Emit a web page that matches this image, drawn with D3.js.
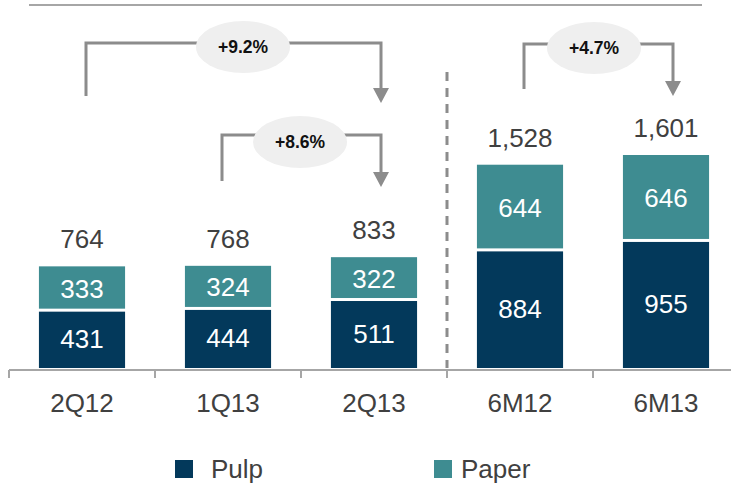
<!DOCTYPE html>
<html><head><meta charset="utf-8">
<script src="https://cdn.jsdelivr.net/npm/d3@7/dist/d3.min.js"></script>
<style>body{margin:0;background:#fff}svg{display:block}text{font-family:"Liberation Sans",Arial,sans-serif}</style>
</head><body><svg id="c" width="731" height="485"></svg>
<script>
const categories = ["2Q12","1Q13","2Q13","6M12","6M13"];
const pulp = [431,444,511,884,955];
const paper = [333,324,322,644,646];
const totals = ["764","768","833","1,528","1,601"];
const seriesNames = ["Pulp","Paper"];
const colors = ["#03395b","#3e8c91"];
const growth = [
  {label:"+9.2%", from:0, to:2, y:43, ex:243, ey:47, fromBottom:96, arrowEnd:103},
  {label:"+8.6%", from:1, to:2, y:135, ex:300, ey:142, fromBottom:181, arrowEnd:187},
  {label:"+4.7%", from:3, to:4, y:44, ex:594, ey:48, fromBottom:89, arrowEnd:96}
];

const svg = d3.select("#c");
const x = d3.scaleBand().domain(categories).range([9, 739]).paddingInner(0.41).paddingOuter(0.205);
const y = d3.scaleLinear().domain([0, 1601]).range([368, 155]);

// top rule
svg.append("line").attr("x1",29).attr("x2",702).attr("y1",5).attr("y2",5)
  .attr("stroke","#a6a6a6").attr("stroke-width",2);

// stacked data
const stack = d3.stack().keys([0,1]).value((d,k)=>k===0?pulp[d]:paper[d]);
const series = stack(d3.range(categories.length));

series.forEach((s,si)=>{
  svg.append("g").selectAll("rect").data(s).join("rect")
    .attr("x",(d,i)=>x(categories[i]))
    .attr("width",x.bandwidth())
    .attr("y",d=>y(d[1]) + (si===1?0:1))
    .attr("height",d=>y(d[0])-y(d[1]) - (si===1?2:1))
    .attr("fill",colors[si]);
  svg.append("g").selectAll("text").data(s).join("text")
    .attr("x",(d,i)=>x(categories[i])+x.bandwidth()/2)
    .attr("y",d=>(y(d[0])+y(d[1]))/2 + 9)
    .attr("text-anchor","middle").attr("fill","#fff").attr("font-size",26)
    .text((d,i)=>si===0?pulp[i]:paper[i]);
});

// totals
svg.append("g").selectAll("text").data(categories).join("text")
  .attr("x",d=>x(d)+x.bandwidth()/2)
  .attr("y",(d,i)=>y(pulp[i]+paper[i]) - 18)
  .attr("text-anchor","middle").attr("fill","#404040").attr("font-size",26)
  .text((d,i)=>totals[i]);

// axis
const axis = svg.append("g").attr("transform","translate(0,370)");
axis.append("line").attr("x1",9).attr("x2",731).attr("stroke","#a6a6a6").attr("stroke-width",2);
const step = x.step();
d3.range(categories.length).forEach(i=>{
  const tx = x(categories[i]) - x.paddingOuter()*step;
  axis.append("line").attr("x1",tx).attr("x2",tx).attr("y1",0).attr("y2",8).attr("stroke","#a6a6a6").attr("stroke-width",2);
});
axis.selectAll("text.cat").data(categories).join("text").attr("class","cat")
  .attr("x",d=>x(d)+x.bandwidth()/2).attr("y",42)
  .attr("text-anchor","middle").attr("fill","#404040").attr("font-size",26).text(d=>d);

// dashed separator
const sepX = (x(categories[2])+x.bandwidth()+x(categories[3]))/2;
svg.append("line").attr("x1",sepX).attr("x2",sepX).attr("y1",72).attr("y2",368)
  .attr("stroke","#8c8c8c").attr("stroke-width",3).attr("stroke-dasharray","9,7");

// growth brackets
growth.forEach(g=>{
  const x1 = x(categories[g.from])+x.bandwidth()/2 + (g.from===1?-6:4);
  const x2 = x(categories[g.to])+x.bandwidth()/2 + 7;
  const arrowTop = g.arrowEnd - 15;
  svg.append("path").attr("d",`M${x1},${g.fromBottom}V${g.y}H${x2}V${arrowTop}`)
    .attr("fill","none").attr("stroke","#8c8c8c").attr("stroke-width",3);
  svg.append("path").attr("d",`M${x2-8},${arrowTop}L${x2+8},${arrowTop}L${x2},${g.arrowEnd}Z`)
    .attr("fill","#8c8c8c");
  svg.append("ellipse").attr("cx",g.ex).attr("cy",g.ey).attr("rx",47).attr("ry",26).attr("fill","#efefef");
  svg.append("text").attr("x",g.ex).attr("y",g.ey+6).attr("text-anchor","middle")
    .attr("font-weight","bold").attr("font-size",17.5).attr("fill","#111").text(g.label);
});

// legend
const legX = [175, 434];
const legTextX = [211, 461];
seriesNames.forEach((n,i)=>{
  svg.append("rect").attr("x",legX[i]).attr("y",460).attr("width",18).attr("height",18).attr("fill",colors[i]);
  svg.append("text").attr("x",legTextX[i]).attr("y",478).attr("fill","#404040").attr("font-size",26).text(n);
});
</script></body></html>
